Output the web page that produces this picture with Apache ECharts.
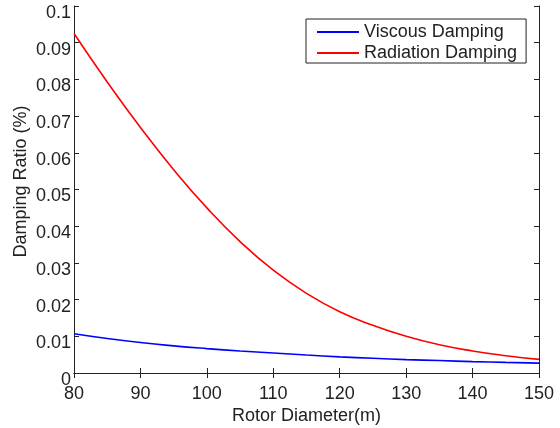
<!DOCTYPE html>
<html>
<head>
<meta charset="utf-8">
<script src="https://cdn.jsdelivr.net/npm/echarts@6/dist/echarts.min.js"></script>
<style>
html, body { margin: 0; padding: 0; background: #fff; }
#chart { width: 560px; height: 428px; }
</style>
</head>
<body>
<div id="chart"></div>
<script>
// rotor diameter (m)
var diameters = [80, 85, 90, 95, 100, 105, 110, 115, 120, 125, 130, 135, 140, 145, 150];
// damping ratios
var viscous = [0.0107, 0.0094, 0.0083, 0.0074, 0.00665, 0.0060, 0.00545, 0.0049, 0.0044, 0.0040, 0.00365, 0.0034, 0.0031, 0.0029, 0.0027];
var radiation = [0.0925, 0.0793, 0.0669, 0.0554, 0.0450, 0.0358, 0.0280, 0.0217, 0.0167, 0.0130, 0.0100, 0.0077, 0.0060, 0.0047, 0.0037];
var seriesNames = ['Viscous Damping', 'Radiation Damping'];

var myChart = echarts.init(document.getElementById('chart'));

function pairs(ys) {
    var out = [];
    for (var i = 0; i < diameters.length; i++) {
        out.push([diameters[i], ys[i]]);
    }
    return out;
}

var txt = '#222';
var fnt = '"Liberation Sans", Arial, sans-serif';
var fs = 18;
var axLine = { show: true, lineStyle: { color: txt, width: 1 } };
var tick = { show: true, inside: true, length: 5, lineStyle: { color: txt } };

option = {
    backgroundColor: '#fff',
    animation: false,
    grid: { left: 74, right: 21, top: 6, bottom: 55, containLabel: false, outerBoundsMode: 'none' },
    legend: {
        orient: 'vertical',
        left: 306,
        top: 19,
        padding: [4, 9, 1, 11],
        itemGap: 3,
        itemWidth: 42,
        itemHeight: 2,
        icon: 'rect',
        borderColor: txt,
        borderWidth: 1,
        backgroundColor: '#fff',
        textStyle: { fontSize: fs, color: txt, fontFamily: fnt },
        data: seriesNames
    },
    xAxis: [
        {
            type: 'value', min: 80, max: 150, interval: 10, position: 'bottom',
            axisLine: axLine, axisTick: tick, splitLine: { show: false },
            axisLabel: { fontSize: fs, color: txt, fontFamily: fnt, margin: 12 },
            name: 'Rotor Diameter(m)', nameLocation: 'middle', nameGap: 34,
            nameMoveOverlap: false,
            nameTextStyle: { fontSize: fs, color: txt, fontFamily: fnt }
        },
        {
            type: 'value', min: 80, max: 150, interval: 10, position: 'top',
            axisLine: axLine, axisTick: tick, splitLine: { show: false },
            axisLabel: { show: false }
        }
    ],
    yAxis: [
        {
            type: 'value', min: 0, max: 0.1, interval: 0.01, position: 'left',
            axisLine: axLine, axisTick: tick, splitLine: { show: false },
            axisLabel: { fontSize: fs, color: txt, fontFamily: fnt, margin: 3, verticalAlign: 'top', lineHeight: 14 },
            name: 'Damping Ratio (%)', nameLocation: 'middle', nameGap: 44,
            nameMoveOverlap: false,
            nameTextStyle: { fontSize: fs, color: txt, fontFamily: fnt, padding: [0, 0, 0, 16] }
        },
        {
            type: 'value', min: 0, max: 0.1, interval: 0.01, position: 'right',
            axisLine: axLine, axisTick: tick, splitLine: { show: false },
            axisLabel: { show: false }
        }
    ],
    series: [
        {
            name: seriesNames[0], type: 'line', data: pairs(viscous),
            smooth: true, showSymbol: false,
            color: '#0000ff', lineStyle: { width: 1.6, color: '#0000ff' }
        },
        {
            name: seriesNames[1], type: 'line', data: pairs(radiation),
            smooth: true, showSymbol: false,
            color: '#ff0000', lineStyle: { width: 1.6, color: '#ff0000' }
        }
    ]
};

myChart.setOption(option);
</script>
</body>
</html>
